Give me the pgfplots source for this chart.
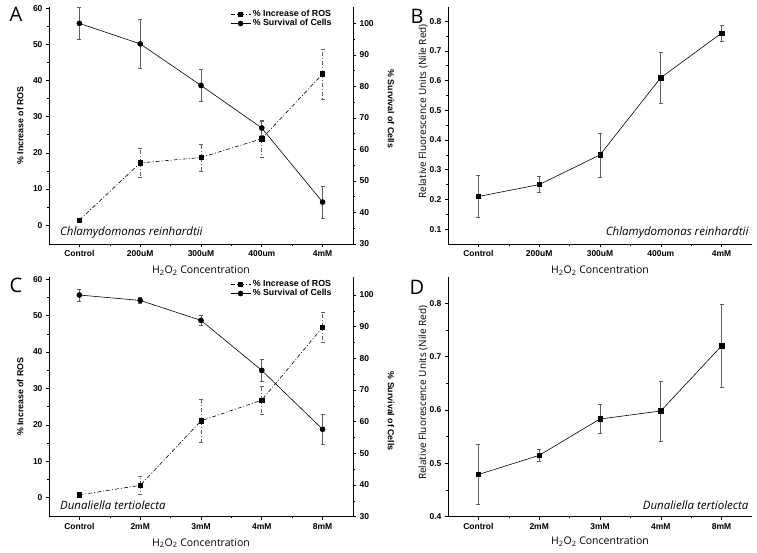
\documentclass[border=0pt]{standalone}
\usepackage{pgfplots}
\pgfplotsset{compat=1.18}
\usepackage{fontspec}
\setmainfont{Open Sans}
\newfontfamily\lib{Liberation Sans}
\newcommand{\tickf}{\lib\fontsize{8.5}{9}\selectfont\bfseries}
\newcommand{\labf}{\fontsize{10.5}{12}\selectfont}
\newcommand{\blabf}{\lib\fontsize{8.8}{10}\selectfont\bfseries}
\newcommand{\spf}{\fontsize{11.5}{13}\selectfont\itshape}
\definecolor{errgray}{RGB}{95,95,95}

\pgfplotsset{
  base/.style={
    scale only axis,
    anchor=south west,
    xmin=-0.5, xmax=4.5,
    xtick={0,1,2,3,4},
    minor x tick num=1,
    minor y tick num=1,
    axis x line*=bottom,
    axis y line*=left,
    tick align=outside,
    major tick length=3pt,
    minor tick length=1.8pt,
    every tick/.style={black, line width=0.6pt},
    axis line style={line width=0.7pt},
    tick label style={font=\tickf},
    /pgf/number format/assume math mode=true,
    clip=false,
    legend image code/.code={
      \draw[mark repeat=2,mark phase=2,#1] plot coordinates {(0cm,0cm) (0.35cm,0cm) (0.7cm,0cm)};
    },
  },
  eb/.style={
    error bars/.cd, y dir=both, y explicit,
    error bar style={errgray, line width=0.8pt},
    error mark options={rotate=90, mark size=2pt, errgray, line width=0.6pt},
  },
  ros/.style={black, line width=0.6pt, dash pattern=on 4pt off 2pt on 1pt off 2pt, mark=square*, mark size=2.2pt, mark options={solid}},
  surv/.style={black, line width=0.6pt, solid, mark=*, mark size=2.5pt},
}

\begin{document}
\begin{tikzpicture}
\path[use as bounding box] (0pt,0pt) rectangle (757pt,553pt);

% ---------------- Panel A ----------------
\begin{axis}[base, at={(49pt,309pt)}, width=304pt, height=237pt,
  ymin=-5.2, ymax=60.3, ytick={0,10,20,30,40,50,60},
  xticklabels={Control,200uM,300uM,400um,4mM},
  ylabel={\blabf \% Increase of ROS},
  ylabel style={at={(axis description cs:-0.095,0.5)}, anchor=center},
  xlabel={\labf H\textsubscript{2}O\textsubscript{2} Concentration},
  xlabel style={at={(axis description cs:0.5,-0.112)}, anchor=center},
  legend style={draw=none, fill=none, font=\blabf,
    at={(axis description cs:0.94,1.0)}, anchor=north east, row sep=-2.5pt, inner sep=1pt},
  legend cell align=left,
]
\addplot[ros, eb] coordinates {
 (0,1.4) +- (0,0.6)
 (1,17.2) +- (0,4.1)
 (2,18.7) +- (0,3.7)
 (3,23.9) +- (0,5.1)
 (4,41.8) +- (0,6.9)
};
\addlegendentry{\% Increase of ROS}
\addlegendimage{surv}
\addlegendentry{\% Survival of Cells}
\node[anchor=west, font=\spf] at (axis description cs:0.025,0.05) {Chlamydomonas reinhardtii};
\end{axis}
\begin{axis}[base, at={(49pt,309pt)}, width=304pt, height=237pt,
  ymin=30, ymax=105.2, ytick={30,40,50,60,70,80,90,100},
  axis y line*=right, axis x line=none,
  ylabel={\blabf \% Survival of Cells},
  ylabel style={at={(axis description cs:1.125,0.57)}, anchor=center, rotate=180},
]
\addplot[surv, eb] coordinates {
 (0,100) +- (0,5)
 (1,93.5) +- (0,7.7)
 (2,80.3) +- (0,5)
 (3,66.8) +- (0,2.2)
 (4,43.3) +- (0,5)
};
\end{axis}
\node[font=\fontsize{20}{22}\selectfont] at (16pt,539pt) {A};

% ---------------- Panel B ----------------
\begin{axis}[base, at={(448pt,309pt)}, width=304pt, height=237pt,
  ymin=0.05, ymax=0.848, ytick={0.1,0.2,0.3,0.4,0.5,0.6,0.7,0.8},
  yticklabel style={/pgf/number format/.cd, fixed, precision=1},
  xticklabels={Control,200uM,300uM,400um,4mM},
  ylabel={\fontsize{10}{12}\selectfont Relative Fluorescence Units (Nile Red)},
  ylabel style={at={(axis description cs:-0.082,0.56)}, anchor=center},
  xlabel={\labf H\textsubscript{2}O\textsubscript{2} Concentration},
  xlabel style={at={(axis description cs:0.5,-0.112)}, anchor=center},
]
\addplot[black, line width=0.6pt, mark=square*, mark size=2.2pt, eb] coordinates {
 (0,0.21) +- (0,0.071)
 (1,0.25) +- (0,0.027)
 (2,0.35) +- (0,0.074)
 (3,0.61) +- (0,0.087)
 (4,0.76) +- (0,0.028)
};
\node[anchor=east, font=\spf] at (axis description cs:1.0,0.05) {Chlamydomonas reinhardtii};
\end{axis}
\node[font=\fontsize{20}{22}\selectfont] at (417pt,537pt) {B};

% ---------------- Panel C ----------------
\begin{axis}[base, at={(49pt,36.3pt)}, width=304pt, height=239.7pt,
  ymin=-5.2, ymax=60.6, ytick={0,10,20,30,40,50,60},
  xticklabels={Control,2mM,3mM,4mM,8mM},
  ylabel={\blabf \% Increase of ROS},
  ylabel style={at={(axis description cs:-0.095,0.5)}, anchor=center},
  xlabel={\labf H\textsubscript{2}O\textsubscript{2} Concentration},
  xlabel style={at={(axis description cs:0.5,-0.11)}, anchor=center},
  legend style={draw=none, fill=none, font=\blabf,
    at={(axis description cs:0.94,1.0)}, anchor=north east, row sep=-2.5pt, inner sep=1pt},
  legend cell align=left,
]
\addplot[ros, eb] coordinates {
 (0,0.8) +- (0,0.3)
 (1,3.4) +- (0,2.4)
 (2,21.1) +- (0,6)
 (3,26.8) +- (0,3.8)
 (4,46.8) +- (0,4.1)
};
\addlegendentry{\% Increase of ROS}
\addlegendimage{surv}
\addlegendentry{\% Survival of Cells}
\node[anchor=west, font=\spf] at (axis description cs:0.025,0.05) {Dunaliella tertiolecta};
\end{axis}
\begin{axis}[base, at={(49pt,36.3pt)}, width=304pt, height=239.7pt,
  ymin=30, ymax=105.7, ytick={30,40,50,60,70,80,90,100},
  axis y line*=right, axis x line=none,
  ylabel={\blabf \% Survival of Cells},
  ylabel style={at={(axis description cs:1.125,0.44)}, anchor=center, rotate=180},
]
\addplot[surv, eb] coordinates {
 (0,100) +- (0,1.9)
 (1,98.3) +- (0,1)
 (2,92.0) +- (0,1.5)
 (3,76.2) +- (0,3.5)
 (4,57.6) +- (0,4.6)
};
\end{axis}
\node[font=\fontsize{20}{22}\selectfont] at (16pt,268pt) {C};

% ---------------- Panel D ----------------
\begin{axis}[base, at={(448pt,36.3pt)}, width=304pt, height=239.7pt,
  ymin=0.4, ymax=0.849, ytick={0.4,0.5,0.6,0.7,0.8},
  yticklabel style={/pgf/number format/.cd, fixed, precision=1},
  xticklabels={Control,2mM,3mM,4mM,8mM},
  ylabel={\fontsize{10}{12}\selectfont Relative Fluorescence Units (Nile Red)},
  ylabel style={at={(axis description cs:-0.082,0.517)}, anchor=center},
  xlabel={\labf H\textsubscript{2}O\textsubscript{2} Concentration},
  xlabel style={at={(axis description cs:0.5,-0.105)}, anchor=center},
]
\addplot[black, line width=0.6pt, mark=square*, mark size=2.2pt, eb] coordinates {
 (0,0.479) +- (0,0.056)
 (1,0.515) +- (0,0.012)
 (2,0.583) +- (0,0.027)
 (3,0.598) +- (0,0.056)
 (4,0.720) +- (0,0.078)
};
\node[anchor=east, font=\spf] at (axis description cs:1.0,0.05) {Dunaliella tertiolecta};
\end{axis}
\node[font=\fontsize{20}{22}\selectfont] at (417pt,266pt) {D};
\end{tikzpicture}
\end{document}
